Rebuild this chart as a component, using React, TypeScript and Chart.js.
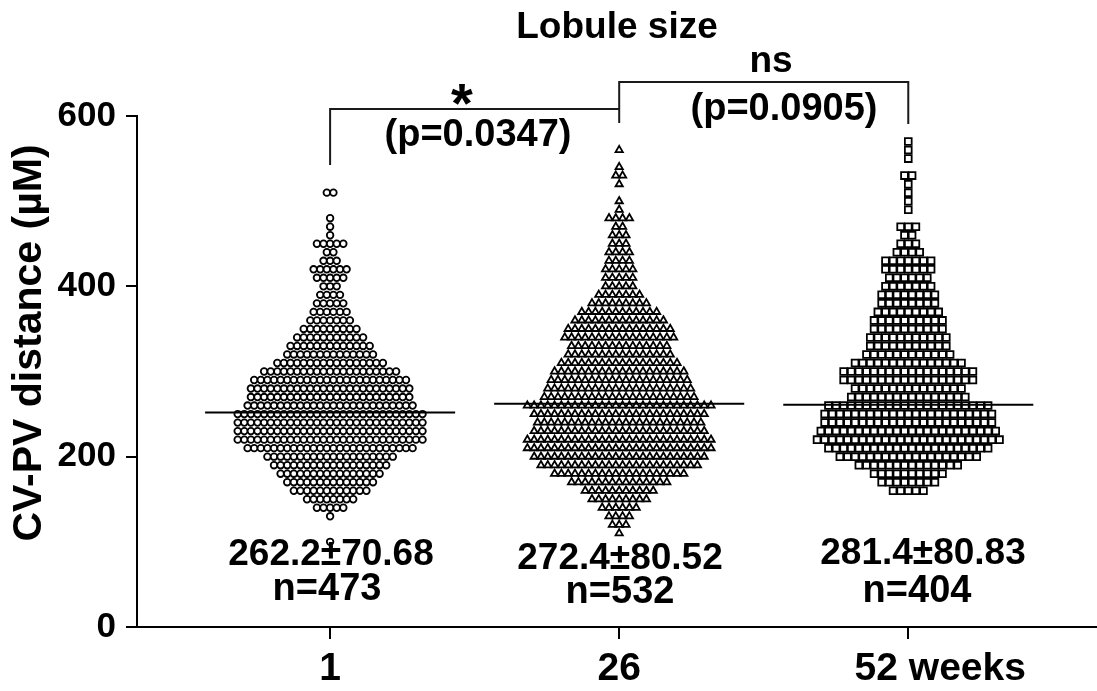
import React, { useEffect, useRef } from 'react';
import { Chart, registerables } from 'chart.js';

Chart.register(...registerables);

// ---- data ----
const categories = ['1', '26', '52 weeks'];
// y bins (CV-PV distance, µM), centre of each 10 µM bin
const binCenters = [
  100, 110, 120, 130, 140, 150, 160, 170, 180, 190, 200, 210, 220, 230, 240, 250,
  260, 270, 280, 290, 300, 310, 320, 330, 340, 350, 360, 370, 380, 390, 400, 410,
  420, 430, 440, 450, 460, 470, 480, 490, 500, 510, 520, 530, 540, 550, 560, 570,
];
// number of lobules per bin, per age group
const week1Counts = [
  1, 0, 0, 1, 5, 8, 12, 14, 16, 18, 20, 26, 29, 29, 29, 29,
  26, 25, 25, 24, 21, 17, 14, 13, 11, 9, 7, 6, 5, 4, 3, 5,
  6, 3, 2, 5, 1, 1, 1, 0, 0, 2, 0, 0, 0, 0, 0, 0,
];
const week26Counts = [
  0, 1, 3, 4, 6, 9, 11, 15, 20, 24, 26, 28, 28, 26, 25, 26,
  28, 23, 22, 21, 20, 18, 16, 15, 17, 16, 14, 12, 9, 7, 5, 5,
  5, 4, 4, 3, 3, 2, 4, 1, 1, 0, 1, 2, 1, 0, 1, 0,
];
const week52Counts = [
  0, 0, 0, 0, 0, 0, 5, 8, 10, 14, 19, 22, 25, 24, 23, 23,
  22, 16, 15, 18, 18, 15, 12, 11, 11, 10, 10, 9, 8, 8, 7, 6,
  7, 7, 4, 3, 2, 3, 0, 1, 1, 1, 1, 2, 0, 1, 1, 1,
];
const medians = [252, 262, 261];
const meanSdLabels = ['262.2±70.68', '272.4±80.52', '281.4±80.83'];
const nLabels = ['n=473', 'n=532', 'n=404'];
const yTicks = [0, 200, 400, 600];
const starLabels = ['*', 'ns'];
const pLabels = ['(p=0.0347)', '(p=0.0905)'];
const titleText = 'Lobule size';
const yTitleText = 'CV-PV distance (µM)';

const FONT = '"Liberation Sans", Arial, Helvetica, sans-serif';
const PX_PER_UNIT = 289; // pixel width of one category step (for swarm spacing)

function swarm(counts: number[], catIndex: number, spacingPx: number) {
  const pts: { x: number; y: number }[] = [];
  const sp = spacingPx / PX_PER_UNIT;
  counts.forEach((c, b) => {
    for (let i = 0; i < c; i++) {
      pts.push({ x: catIndex + 1 + (i - (c - 1) / 2) * sp, y: binCenters[b] });
    }
  });
  return pts;
}

const textPlugin = {
  id: 'annotations',
  afterDraw(chart: any) {
    const ctx = chart.ctx;
    const xs = chart.scales.x;
    const area = chart.chartArea;
    const cx = (i: number) => xs.getPixelForValue(i + 1);
    ctx.save();

    // x axis runs on to the right edge of the figure
    ctx.strokeStyle = '#000';
    ctx.lineWidth = 2;
    ctx.beginPath();
    ctx.moveTo(area.right - 1, area.bottom);
    ctx.lineTo(chart.width, area.bottom);
    ctx.stroke();

    ctx.fillStyle = '#000';
    ctx.textAlign = 'center';
    ctx.textBaseline = 'alphabetic';

    // title
    ctx.font = `bold 37px ${FONT}`;
    ctx.fillText(titleText, 617, 38);

    // brackets
    ctx.strokeStyle = '#1a1a1a';
    ctx.lineWidth = 2;
    ctx.beginPath();
    ctx.moveTo(cx(0), 165);
    ctx.lineTo(cx(0), 109);
    ctx.lineTo(cx(1), 109);
    ctx.lineTo(cx(1), 123);
    ctx.moveTo(cx(1), 109);
    ctx.lineTo(cx(1), 82);
    ctx.lineTo(cx(2), 82);
    ctx.lineTo(cx(2), 124);
    ctx.stroke();

    ctx.font = `bold 56px ${FONT}`;
    ctx.fillText(starLabels[0], 462, 122);
    ctx.font = `bold 37px ${FONT}`;
    ctx.fillText(starLabels[1], 771, 72);
    ctx.font = `bold 38px ${FONT}`;
    ctx.fillText(pLabels[0], 478, 146);
    ctx.fillText(pLabels[1], 784, 120);

    // mean ± SD and n
    const statX = [331, 620, 923];
    const statY1 = [565, 569, 564];
    const nX = [327, 620, 917];
    const statY2 = [600, 603, 602];
    for (let i = 0; i < 3; i++) {
      ctx.font = `bold 37px ${FONT}`;
      ctx.fillText(meanSdLabels[i], statX[i], statY1[i]);
      ctx.font = `bold 38px ${FONT}`;
      ctx.fillText(nLabels[i], nX[i], statY2[i]);
    }

    // x category labels
    ctx.font = `bold 39px ${FONT}`;
    const labelShift = [0, 0, 32];
    for (let i = 0; i < 3; i++) {
      ctx.fillText(categories[i], cx(i) + labelShift[i], 680);
    }

    // y axis title
    ctx.save();
    ctx.translate(30, 343);
    ctx.rotate(-Math.PI / 2);
    ctx.textBaseline = 'middle';
    ctx.font = `bold 41px ${FONT}`;
    ctx.fillText(yTitleText, 0, 0);
    ctx.restore();

    ctx.restore();
  },
};

export default function App() {
  const ref = useRef<HTMLCanvasElement | null>(null);
  useEffect(() => {
    document.body.style.margin = '0';
    const canvas = ref.current!;
    const medianLine = (i: number) => ({
      type: 'scatter' as const,
      data: [
        { x: i + 1 - 0.4325, y: medians[i] },
        { x: i + 1 + 0.4325, y: medians[i] },
      ],
      showLine: true,
      borderColor: '#000',
      borderWidth: 2,
      pointRadius: 0,
      order: 0,
    });
    const chart = new Chart(canvas, {
      type: 'scatter',
      data: {
        datasets: [
          medianLine(0),
          medianLine(1),
          medianLine(2),
          {
            data: swarm(week1Counts, 0, 6.6),
            pointStyle: 'circle',
            pointRadius: 3.3,
            pointBorderWidth: 1.8,
            pointBorderColor: '#000',
            pointBackgroundColor: '#fff',
            order: 1,
          },
          {
            data: swarm(week26Counts, 1, 6.8),
            pointStyle: 'triangle',
            pointRadius: 4.2,
            pointBorderWidth: 1.8,
            pointBorderColor: '#000',
            pointBackgroundColor: '#fff',
            order: 1,
          },
          {
            data: swarm(week52Counts, 2, 7.6),
            pointStyle: 'rect',
            pointRadius: 4.8,
            pointBorderWidth: 1.8,
            pointBorderColor: '#000',
            pointBackgroundColor: '#fff',
            order: 1,
          },
        ] as any,
      },
      options: {
        animation: false,
        responsive: false,
        devicePixelRatio: 1,
        layout: { padding: { top: 116, left: 0, right: 0, bottom: 0 } },
        plugins: { legend: { display: false }, tooltip: { enabled: false } },
        scales: {
          x: {
            type: 'linear',
            min: 0.332,
            max: 3.63,
            afterBuildTicks: (s: any) => {
              s.ticks = [1, 2, 3].map((v) => ({ value: v }));
            },
            ticks: { display: false },
            grid: { drawOnChartArea: false, drawTicks: true, tickLength: 12, color: '#000', lineWidth: 2 },
            border: { display: true, color: '#000', width: 2 },
            afterFit: (s: any) => {
              s.height = 64;
            },
          },
          y: {
            type: 'linear',
            min: 0,
            max: 600,
            afterBuildTicks: (s: any) => {
              s.ticks = yTicks.map((v) => ({ value: v }));
            },
            ticks: {
              color: '#000',
              padding: 10,
              font: { family: FONT, size: 35, weight: 'bold' },
            },
            grid: { drawOnChartArea: false, drawTicks: true, tickLength: 11, color: '#000', lineWidth: 2 },
            border: { display: true, color: '#000', width: 2 },
            afterFit: (s: any) => {
              s.width = 137;
            },
          },
        },
      } as any,
      plugins: [textPlugin],
    });
    return () => chart.destroy();
  }, []);
  return (
    <div style={{ position: 'absolute', left: 0, top: 0, width: 1097, height: 691, background: '#fff' }}>
      <canvas ref={ref} width={1097} height={691} />
    </div>
  );
}
